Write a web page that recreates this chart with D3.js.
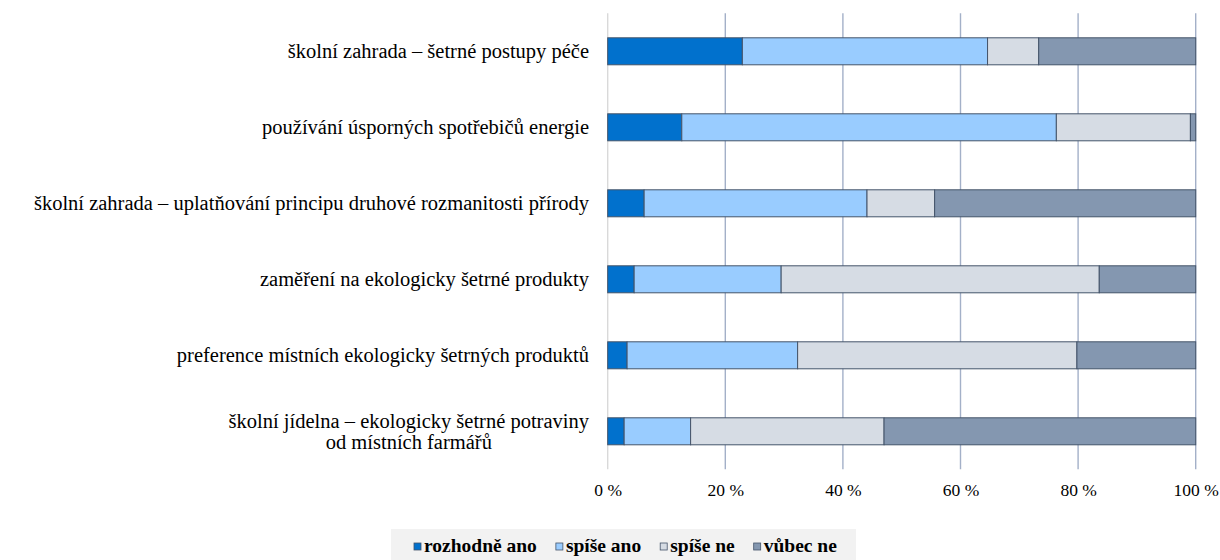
<!DOCTYPE html>
<html>
<head>
<meta charset="utf-8">
<script src="https://cdn.jsdelivr.net/npm/d3@7"></script>
<style>
  body { margin: 0; background: #fff; }
</style>
</head>
<body>
<svg id="chart" width="1220" height="560"></svg>
<script>
// categories, top to bottom (second line of a label after "\n")
var categories = [
  "školní zahrada – šetrné postupy péče",
  "používání úsporných spotřebičů energie",
  "školní zahrada – uplatňování principu druhové rozmanitosti přírody",
  "zaměření na ekologicky šetrné produkty",
  "preference místních ekologicky šetrných produktů",
  "školní jídelna – ekologicky šetrné potraviny\nod místních farmářů"
];
var seriesNames = ["rozhodně ano", "spíše ano", "spíše ne", "vůbec ne"];
var seriesColors = ["#0171cd", "#99ccff", "#d6dce4", "#8497b0"];

// percent shares per category, in series order
var rozhodneAno = [22.9, 12.6, 6.2, 4.5, 3.3, 2.8];
var spiseAno    = [41.7, 63.7, 37.9, 25.0, 29.0, 11.3];
var spiseNe     = [8.7, 22.8, 11.5, 54.1, 47.5, 32.9];
var vubecNe     = [26.7, 0.9, 44.4, 16.4, 20.2, 53.0];

var tickValues = [0, 20, 40, 60, 80, 100];

// no serif face in the sandbox, so this ends up on Liberation Sans
var FONT = '"Liberation Serif", "Times New Roman", "Liberation Sans", Arial, sans-serif';
var labelSize = 20.5;

var svg = d3.select("#chart")
  .attr("font-family", FONT);

var rows = categories.map(function(c, i) {
  return { cat: c, "rozhodně ano": rozhodneAno[i], "spíše ano": spiseAno[i],
           "spíše ne": spiseNe[i], "vůbec ne": vubecNe[i] };
});

var x = d3.scaleLinear().domain([0, 100]).range([607.7, 1195.7]);
var y = d3.scaleBand().domain(categories).range([13.3, 469.3]).padding(0);
var barH = 27;

// gridlines
svg.append("g")
  .selectAll("line")
  .data(tickValues)
  .enter()
  .append("line")
  .attr("x1", function(d) { return x(d); })
  .attr("x2", function(d) { return x(d); })
  .attr("y1", y.range()[0])
  .attr("y2", y.range()[1])
  .attr("stroke", function(d) { return d == 0 ? "#d9d9d9" : "#a3b0c8"; })
  .attr("stroke-width", 1.4);

// stacked bars
var stack = d3.stack().keys(seriesNames)(rows);

svg.append("g")
  .selectAll("g")
  .data(stack)
  .enter()
  .append("g")
  .attr("fill", function(d, i) { return seriesColors[i]; })
  .selectAll("rect")
  .data(function(d) { return d; })
  .enter()
  .append("rect")
  .attr("x", function(d) { return x(d[0]); })
  .attr("width", function(d) { return Math.max(0, x(d[1]) - x(d[0])); })
  .attr("y", function(d) { return y(d.data.cat) + (y.bandwidth() - barH) / 2; })
  .attr("height", barH)
  .attr("stroke", "#44546a")
  .attr("stroke-width", 1);

// x tick labels
var xAxis = d3.axisBottom(x)
  .tickValues(tickValues)
  .tickSize(0)
  .tickPadding(0)
  .tickFormat(function(d) { return d + " %"; });

var gx = svg.append("g")
  .attr("transform", "translate(0,484)")
  .call(xAxis)
  .attr("font-family", FONT)
  .attr("font-size", 17.5);
gx.select(".domain").remove();
gx.selectAll("text")
  .attr("dy", "0.71em")
  .attr("fill", "#000");

// category labels
var labels = svg.append("g")
  .selectAll("text")
  .data(categories)
  .enter()
  .append("text")
  .attr("font-size", labelSize)
  .attr("y", function(d) { return y(d) + y.bandwidth() / 2; });

labels.each(function(d) {
  var lines = d.split("\n");
  var t = d3.select(this);
  var right = 589;
  if (lines.length == 1) {
    t.attr("x", right).attr("text-anchor", "end").attr("dy", "0.35em").text(d);
  } else {
    // wrapped label: lines centred on each other, block right-aligned
    t.attr("text-anchor", "middle");
    var s1 = t.append("tspan").text(lines[0]);
    var w = s1.node().getComputedTextLength();
    var cx = right - w / 2;
    var lh = 21;
    s1.attr("x", cx).attr("dy", (-(lines.length - 1) * lh / 2 / labelSize + 0.35) + "em");
    for (var k = 1; k < lines.length; k++) {
      t.append("tspan").attr("x", cx).attr("dy", lh).text(lines[k]);
    }
  }
});

// legend
svg.append("rect")
  .attr("x", 391).attr("y", 529)
  .attr("width", 465).attr("height", 31)
  .attr("fill", "#f2f2f2");

var lx = 414;
seriesNames.forEach(function(name, i) {
  svg.append("rect")
    .attr("x", lx).attr("y", 543)
    .attr("width", 7).attr("height", 7)
    .attr("fill", seriesColors[i])
    .attr("stroke", "#44546a")
    .attr("stroke-width", 0.8);
  var t = svg.append("text")
    .attr("x", lx + 10).attr("y", 552)
    .attr("font-size", 19.5)
    .attr("font-weight", "bold")
    .text(name);
  lx += 10 + t.node().getComputedTextLength() + 19;
});
</script>
</body>
</html>
